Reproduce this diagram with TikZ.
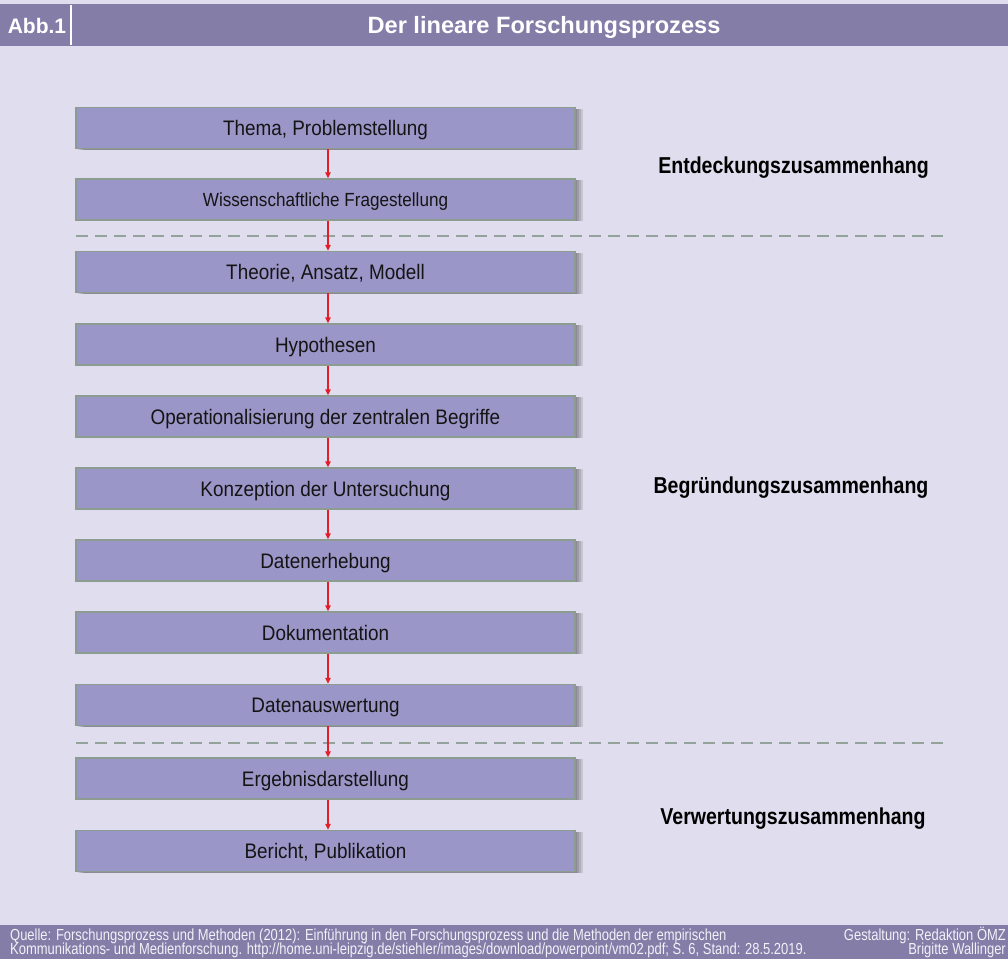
\documentclass[tikz,border=0pt]{standalone}
\usepackage{fontspec}
\setmainfont{Liberation Sans}
\newfontfamily\boxfont{Liberation Sans}[FakeStretch=0.9]
\newfontfamily\footfont{Liberation Sans}[FakeStretch=0.81]
\newfontfamily\labfont{Liberation Sans}[FakeStretch=0.85]
\usetikzlibrary{arrows.meta,shadows}
\definecolor{bgc}{HTML}{E0DEEE}
\definecolor{headc}{HTML}{837DA8}
\definecolor{boxfill}{HTML}{9B96C8}
\definecolor{boxborder}{HTML}{8C9C90}
\definecolor{dashc}{HTML}{93A39B}
\definecolor{arrred}{HTML}{E41E26}
\definecolor{foottext}{HTML}{F2F1F8}
\tikzset{
  stepbox/.style={draw=boxborder, line width=1.5pt, fill=boxfill,
    minimum width=499pt, minimum height=41pt, inner sep=0pt,
    font=\boxfont\fontsize{21pt}{25pt}\selectfont, text=black!92,
    text height=15pt, text depth=0pt,
    general shadow={fill=black, opacity=0.11, shadow xshift=2pt, shadow yshift=-1pt},
    general shadow={fill=black, opacity=0.11, shadow xshift=4pt, shadow yshift=-1pt},
    general shadow={fill=black, opacity=0.11, shadow xshift=6pt, shadow yshift=-1pt},
    general shadow={fill=black, opacity=0.11, shadow xshift=8pt, shadow yshift=-1pt}},
  smallbox/.style={stepbox, font=\boxfont\fontsize{19pt}{23pt}\selectfont, text height=13.6pt},
  arr/.style={draw=arrred, line width=1.2pt, -{Triangle[length=6pt,width=5.5pt]}},
  dashline/.style={draw=dashc, line width=1.5pt, dash pattern=on 12pt off 7pt},
  lab/.style={font=\labfont\bfseries\fontsize{23pt}{27pt}\selectfont, inner sep=0pt, text=black},
  foot/.style={font=\footfont\fontsize{16pt}{16pt}\selectfont, inner sep=0pt, text=foottext},
  headtext/.style={font=\bfseries, inner sep=0pt, text=white}
}
\begin{document}
\begin{tikzpicture}[x=1pt,y=-1pt]
\useasboundingbox (0,0) rectangle (1008,959);
\clip (0,0) rectangle (1008,959);
\fill[bgc] (0,0) rectangle (1008,959);
% header
\fill[headc] (0,4) rectangle (1008,45.5);
\draw[white, line width=1.2pt] (71,5) -- (71,45);
\node[headtext, anchor=base, font=\bfseries\fontsize{21pt}{25pt}\selectfont] (abb) at (37,33.5) {Abb.1};
\node[headtext, anchor=base, font=\bfseries\fontsize{23.6pt}{27pt}\selectfont] (title) at (544,33.5) {Der lineare Forschungsprozess};
% separators
\coordinate (d1a) at (76,236);
\coordinate (d1b) at (943,236);
\coordinate (d2a) at (76,743);
\coordinate (d2b) at (943,743);
\draw[dashline] (d1a) -- (d1b);
\draw[dashline] (d2a) -- (d2b);
% boxes
\node[stepbox] (b1) at (325.5,128) {Thema, Problemstellung};
\node[smallbox] (b2) at (325.5,199.5) {Wissenschaftliche Fragestellung};
\node[stepbox] (b3) at (325.5,272) {Theorie, Ansatz, Modell};
\node[stepbox] (b4) at (325.5,344.5) {Hypothesen};
\node[stepbox] (b5) at (325.5,416.5) {Operationalisierung der zentralen Begriffe};
\node[stepbox] (b6) at (325.5,488.5) {Konzeption der Untersuchung};
\node[stepbox] (b7) at (325.5,560.5) {Datenerhebung};
\node[stepbox] (b8) at (325.5,632.5) {Dokumentation};
\node[stepbox] (b9) at (325.5,705) {Datenauswertung};
\node[stepbox] (b10) at (325.5,778.5) {Ergebnisdarstellung};
\node[stepbox] (b11) at (325.5,851) {Bericht, Publikation};
% arrows
\coordinate (ax) at (328,0);
\foreach \a/\b in {b1/b2,b2/b3,b3/b4,b4/b5,b5/b6,b6/b7,b7/b8,b8/b9,b9/b10,b10/b11}
  \draw[arr] (\a.south -| ax) -- (\b.north -| ax);
% labels
\node[lab, anchor=base] (l1) at (793.5,173) {Entdeckungszusammenhang};
\node[lab, anchor=base] (l2) at (791,493) {Begründungszusammenhang};
\node[lab, anchor=base] (l3) at (793,824) {Verwertungszusammenhang};
% footer
\fill[headc] (0,925) rectangle (1008,959);
\node[foot, anchor=base west] (f1) at (10,940) {Quelle: Forschungsprozess und Methoden (2012): Einführung in den Forschungsprozess und die Methoden der empirischen};
\node[foot, anchor=base west] (f2) at (10,954.5) {Kommunikations- und Medienforschung. http://home.uni-leipzig.de/stiehler/images/download/powerpoint/vm02.pdf; S. 6, Stand: 28.5.2019.};
\node[foot, anchor=base east] (f3) at (1006,940) {Gestaltung: Redaktion ÖMZ};
\node[foot, anchor=base east] (f4) at (1006,954.5) {Brigitte Wallinger};
\end{tikzpicture}
\end{document}
